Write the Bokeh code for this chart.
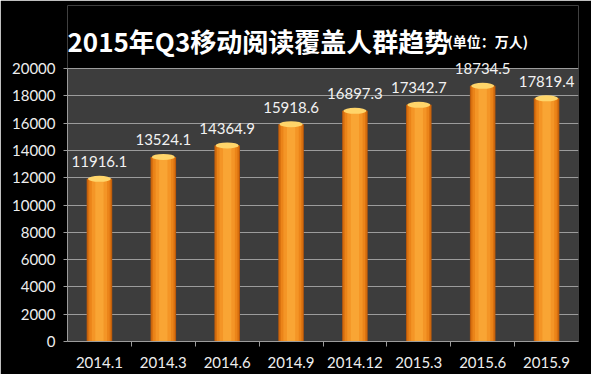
from bokeh.plotting import figure
from bokeh.models import ColumnDataSource, FixedTicker, LabelSet, Label, Range1d
from bokeh.core.properties import value
from bokeh.embed import file_html
from bokeh.resources import INLINE

categories = ["2014.1", "2014.3", "2014.6", "2014.9", "2014.12", "2015.3", "2015.6", "2015.9"]
users = [11916.1, 13524.1, 14364.9, 15918.6, 16897.3, 17342.7, 18734.5, 17819.4]
y_ticks = [0, 2000, 4000, 6000, 8000, 10000, 12000, 14000, 16000, 18000, 20000]

y_max = y_ticks[-1]
y_top = y_max * 336 / 273  # extra room above the plot area for the title
n = len(categories)

xs = [i + 0.5 for i in range(n)]
src = ColumnDataSource(dict(x=xs, y=users, lab=[f"{v:.1f}" for v in users]))

p = figure(width=591, height=374, output_backend="svg", toolbar_location=None,
           x_range=Range1d(0, n), y_range=Range1d(0, y_top),
           background_fill_color="black", border_fill_color="black",
           outline_line_color=None,
           min_border_left=67, min_border_right=13, min_border_top=5, min_border_bottom=33)

# plot-area background (0 .. top tick)
p.quad(left=[0], right=[n], bottom=[0], top=[y_max], fill_color="#3d3d3d",
       line_color=None, level="image")

# cylinder-like shading layers
layers = [(0.40, "#B9590C"), (0.37, "#D8700F"), (0.32, "#EB8419"), (0.24, "#F49526"), (0.13, "#F9A534")]
for w, c in layers:
    p.vbar(x="x", top="y", width=w, bottom=0, source=src, fill_color=c, line_color=None)
p.ellipse(x="x", y="y", width=0.36, height=6, height_units="screen", source=src,
          fill_color="#FFD56A", line_color=None)

labels = LabelSet(x="x", y="y", text="lab", source=src, y_offset=17,
                  text_align="center", text_baseline="middle",
                  text_color="#f2f2f2", text_font_size="15px", text_font=value("Lato"))
p.add_layout(labels)

p.xgrid.visible = False
p.ygrid.grid_line_color = "#9c9c9c"
p.ygrid.grid_line_width = 1
p.ygrid.bounds = (0, n)

p.yaxis.ticker = FixedTicker(ticks=y_ticks)
p.yaxis.bounds = (0, y_max)
p.yaxis.axis_line_color = "#9c9c9c"
p.yaxis.major_tick_line_color = "#9c9c9c"
p.yaxis.major_tick_out = 4
p.yaxis.major_tick_in = 0
p.yaxis.minor_tick_line_color = None
p.yaxis.major_label_text_color = "#eeeeee"
p.yaxis.major_label_text_font = "Lato"
p.yaxis.major_label_text_font_size = "15px"
p.yaxis.major_label_standoff = 8

p.xaxis.ticker = FixedTicker(ticks=xs, minor_ticks=list(range(1, n)))
p.xaxis.major_label_overrides = {x: c for x, c in zip(xs, categories)}
p.xaxis.axis_line_color = "#9c9c9c"
p.xaxis.major_tick_line_color = None
p.xaxis.minor_tick_line_color = "#9c9c9c"
p.xaxis.minor_tick_out = 5
p.xaxis.minor_tick_in = 0
p.xaxis.major_label_text_color = "#eeeeee"
p.xaxis.major_label_text_font = "Lato"
p.xaxis.major_label_text_font_size = "15px"
p.xaxis.major_label_standoff = 9

title = Label(x=0, y=22050, x_units="data", y_units="data",
              text="2015年Q3移动阅读覆盖人群趋势", text_color="white",
              text_font="Noto Sans CJK SC", text_font_size="26px",
              text_font_style="bold", text_baseline="alphabetic")
unit = Label(x=5.95, y=22050, x_units="data", y_units="data",
             text="(单位：万人)", text_color="white",
             text_font="Noto Sans CJK SC", text_font_size="14px",
             text_font_style="bold", text_baseline="alphabetic")
p.add_layout(title)
p.add_layout(unit)

open("out.html", "w").write(file_html(p, INLINE))
